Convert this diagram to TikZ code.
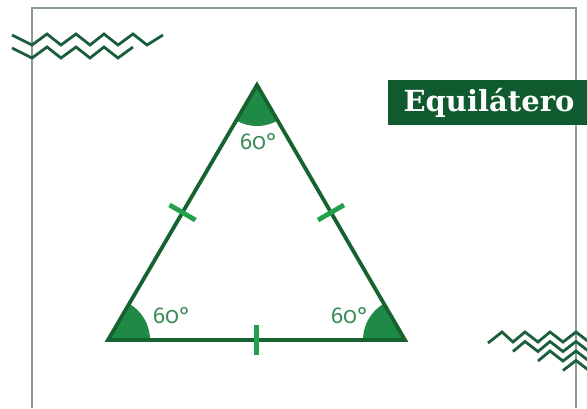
\documentclass[tikz,border=0pt]{standalone}
\usepackage{fontspec}
\usetikzlibrary{calc}
\newfontfamily\angfont[Numbers=OldStyle]{Fira Sans}
\newfontfamily\titlefont{DejaVu Serif}
\definecolor{frame}{HTML}{8A9A95}
\definecolor{zig}{HTML}{1B5E3B}
\definecolor{tri}{HTML}{17632F}
\definecolor{sect}{HTML}{1F8A45}
\definecolor{tickc}{HTML}{22A04E}
\definecolor{lab}{HTML}{3F8D5C}
\definecolor{title}{HTML}{0F5A2E}
\tikzset{
  framel/.style={draw=frame,line width=1.2pt},
  zigl/.style={draw=zig,line width=2.8pt,line join=miter,line cap=butt},
  side/.style={draw=tri,line width=3.8pt,line join=miter},
  tickl/.style={draw=tickc,line width=4.8pt},
  anglab/.style={text=lab,font=\angfont\fontsize{23}{23}\selectfont,inner sep=0pt},
}
\begin{document}
\begin{tikzpicture}[x=1pt,y=-1pt]
\useasboundingbox (0,0) rectangle (587,408);
\fill[white] (0,0) rectangle (587,408);
% frame
\draw[framel] (32,408) -- (32,8) -- (576,8) -- (576,408);
% zigzags top-left
\draw[zigl] (12,35) -- (32,45) -- (47,34) -- (61,45) -- (76,34) -- (90,45) -- (104,34) -- (118,45) -- (133,34) -- (147,45) -- (163,35);
\draw[zigl] (12,48) -- (32,58) -- (47,47) -- (61,58) -- (76,47) -- (90,58) -- (104,47) -- (118,58) -- (133,47);
% zigzags bottom-right
\begin{scope}
\clip (0,0) rectangle (587,408);
\draw[zigl] (488,343) -- (502,332) -- (513,342) -- (525,332) -- (538,342) -- (550,332) -- (563,342) -- (576,332) -- (589,342) -- (601,332);
\draw[zigl] (513,351.5) -- (525,341.5) -- (538,351.5) -- (550,341.5) -- (563,351.5) -- (576,341.5) -- (589,351.5);
\draw[zigl] (538,361) -- (550,351) -- (563,361) -- (576,351) -- (589,361);
\draw[zigl] (563,370.5) -- (576,360.5) -- (589,370.5);
\end{scope}
% title
\node[fill=title,minimum width=199pt,minimum height=45pt,anchor=north west,inner sep=0pt] (tbox) at (388,80) {};
\node[text=white,font=\titlefont\bfseries\fontsize{29}{29}\selectfont,inner sep=0pt,anchor=base] (ttl) at (489,111) {Equilátero};
% triangle
\coordinate (A) at (257,85);
\coordinate (B) at (108,340);
\coordinate (C) at (405,340);
\begin{scope}
\clip (A) -- (B) -- (C) -- cycle;
\fill[sect] (A) circle[radius=41];
\fill[sect] (B) circle[radius=42];
\fill[sect] (C) circle[radius=42];
\end{scope}
\draw[side] (A) -- (B) -- (C) -- cycle;
% ticks
\coordinate (m1) at ($(A)!0.5!(B)$);
\coordinate (m2) at ($(A)!0.5!(C)$);
\coordinate (m3) at ($(B)!0.5!(C)$);
\draw[tickl] ($(m1)!15pt!90:(A)$) -- ($(m1)!15pt!-90:(A)$);
\draw[tickl] ($(m2)!15pt!90:(A)$) -- ($(m2)!15pt!-90:(A)$);
\draw[tickl] ($(m3)!15pt!90:(B)$) -- ($(m3)!15pt!-90:(B)$);
% labels
\node[anglab] (la) at (259,142) {60°};
\node[anglab] (lb) at (172,316) {60°};
\node[anglab] (lc) at (350,316) {60°};
\end{tikzpicture}
\end{document}
